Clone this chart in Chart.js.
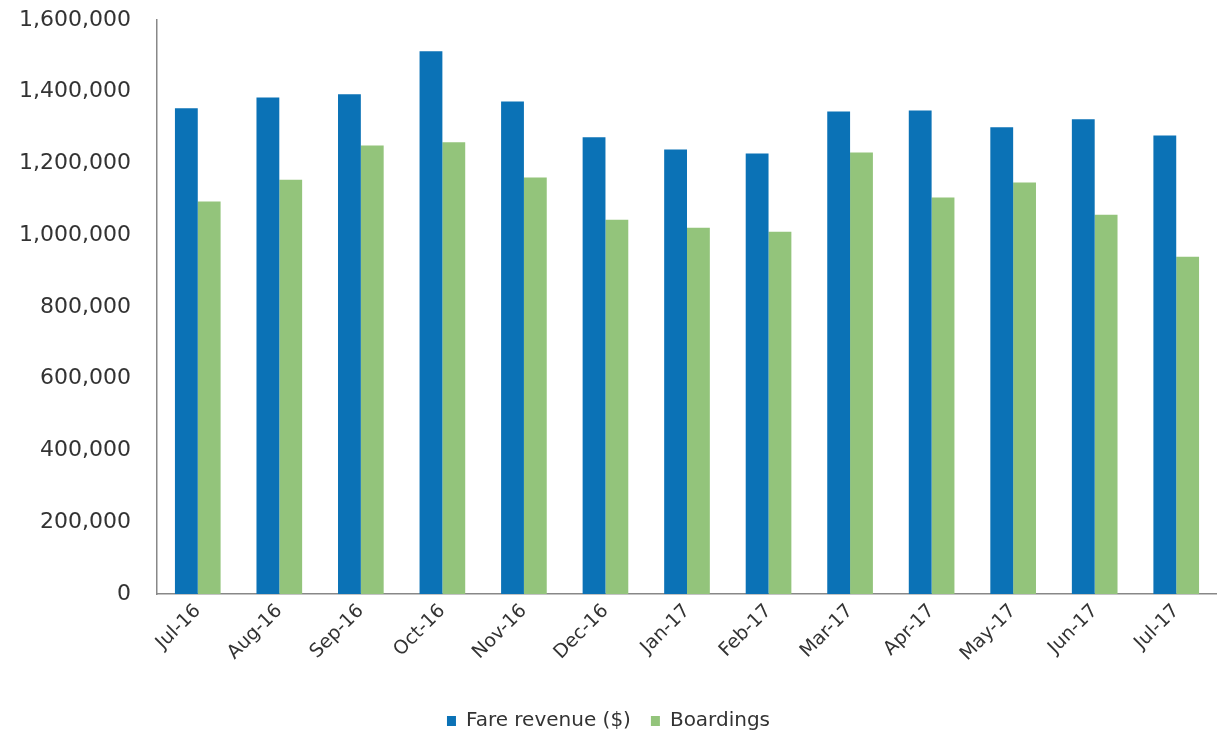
<!DOCTYPE html>
<html>
<head>
<meta charset="utf-8">
<script src="https://cdn.jsdelivr.net/npm/chart.js@4"></script>
<style>
  html, body { margin: 0; padding: 0; background: #fff; }
  #wrap { width: 1217px; height: 730px; }
</style>
</head>
<body>
<div id="wrap"><canvas id="diagram"></canvas></div>
<script>
// månader på x-axeln
const months = ["Jul-16", "Aug-16", "Sep-16", "Oct-16", "Nov-16", "Dec-16",
  "Jan-17", "Feb-17", "Mar-17", "Apr-17", "May-17", "Jun-17", "Jul-17"];

// avlästa värden
const fareRevenue = [1354000, 1384000, 1393000, 1513000, 1373000, 1273000,
  1239000, 1228000, 1345000, 1348000, 1301000, 1323000, 1278000];
const boardings = [1094000, 1155000, 1250000, 1259000, 1161000, 1043000,
  1021000, 1010000, 1231000, 1105000, 1147000, 1057000, 940000];

const yTicks = [0, 200000, 400000, 600000, 800000, 1000000, 1200000, 1400000, 1600000];

const blue = "#0b72b6";
const green = "#93c47b";
const font = "DejaVu Sans";

const data = {
  labels: months,
  datasets: [
    { label: "Fare revenue ($)", data: fareRevenue, backgroundColor: blue },
    { label: "Boardings", data: boardings, backgroundColor: green },
  ],
};

const config = {
  type: "bar",
  data: data,
  options: {
    responsive: true,
    maintainAspectRatio: false,
    animation: false,
    layout: { padding: { top: 20, right: 0, left: 0, bottom: -11 } },
    datasets: {
      bar: { categoryPercentage: 0.56, barPercentage: 1.0 },
    },
    plugins: {
      tooltip: { enabled: false },
      legend: {
        position: "bottom",
        labels: {
          color: "#333",
          boxWidth: 9,
          boxHeight: 10,
          padding: 20,
          font: { family: font, size: 20 },
        },
      },
    },
    scales: {
      x: {
        grid: { display: false, drawTicks: false },
        border: { color: "#888", width: 1.5 },
        ticks: {
          color: "#333",
          minRotation: 45,
          maxRotation: 45,
          padding: 6,
          font: { family: font, size: 19 },
        },
        afterFit: (scale) => { scale.height = 97; },
      },
      y: {
        min: 0,
        max: 1600000,
        grid: { display: false, drawTicks: false },
        border: { color: "#888", width: 1.5 },
        afterBuildTicks: (scale) => {
          scale.ticks = yTicks.map((v) => ({ value: v }));
        },
        ticks: {
          color: "#333",
          padding: 26,
          font: { family: font, size: 22 },
          callback: (v) => v.toLocaleString("en-US"),
        },
        afterFit: (scale) => {
          scale.width = 157;
          scale.paddingTop = 0;
        },
      },
    },
  },
};

const canvas = document.getElementById("diagram");
const chart = new Chart(canvas, config);
</script>
</body>
</html>
